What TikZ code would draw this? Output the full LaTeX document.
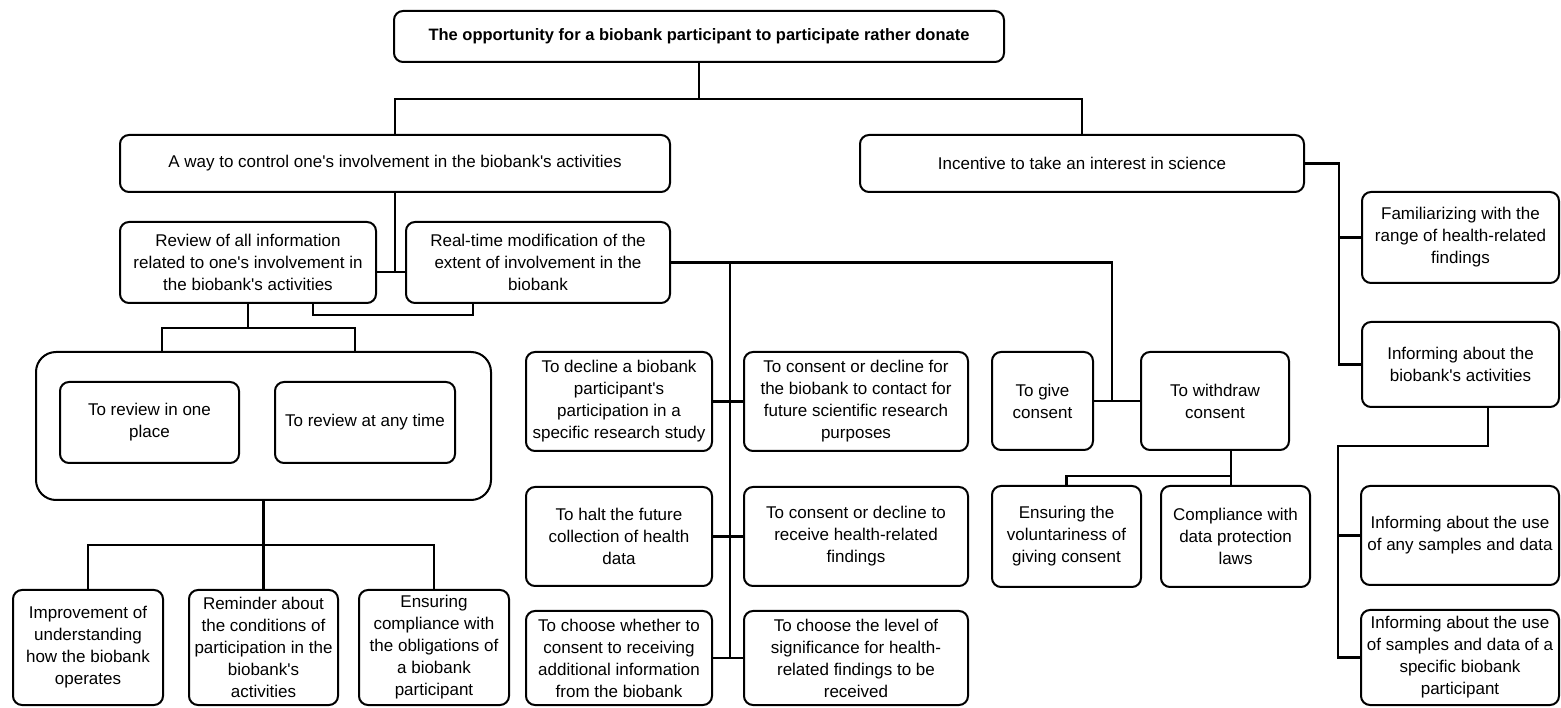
\documentclass[tikz,border=0pt]{standalone}
\usepackage{fontspec}
\setmainfont{Liberation Sans}
\usetikzlibrary{positioning, calc}
\newcommand{\apo}{\textquotesingle}

\begin{document}
\begin{tikzpicture}[x=1pt, y=1pt, line width=2pt,
	box/.style 2 args={draw, line width=2pt, rounded corners=9pt, align=center, inner sep=0pt,
		minimum width=#1, minimum height=#2, font=\fontsize{17}{22}\selectfont},
	conn/.style={line width=2.2pt}]
	\useasboundingbox (0,0) rectangle (1561,707);
	% top levels
	\node[box={610}{51}, font=\bfseries\fontsize{16.5}{22}\selectfont] (root) at (699,670.5) {The opportunity for a biobank participant to participate rather donate};
	\node[box={550}{57}] (way) at (395,543.5) {A way to control one\apo s involvement in the biobank\apo s activities};
	\node[box={444}{57}] (inc) at (1082,543.5) {Incentive to take an interest in science};
	\node[box={256}{81}] (rev) at (248,444.5) {Review of all information\\related to one\apo s involvement in\\the biobank\apo s activities};
	\node[box={264}{81}] (rtm) at (538,444.5) {Real-time modification of the\\extent of involvement in the\\biobank};
	% review branch
	\node[box={455}{148}, rounded corners=20pt] (big) at (263.5,281) {};
	\node[box={179}{81}] (one) at (149.5,284.5) {To review in one\\place};
	\node[box={180}{81}] (any) at (365,284.5) {To review at any time};
	\node[box={150}{115}] (imp) at (88,59.5) {Improvement of\\understanding\\how the biobank\\operates};
	\node[box={149}{115}] (rem) at (263.5,59.5) {Reminder about\\the conditions of\\participation in the\\biobank\apo s\\activities};
	\node[box={150}{115}] (ens) at (434,59.5) {Ensuring\\compliance with\\the obligations of\\a biobank\\participant};
	% modification branch
	\node[box={186}{99}] (dec) at (619,305.5) {To decline a biobank\\participant\apo s\\participation in a\\specific research study};
	\node[box={224}{99}] (cfc) at (856,305.5) {To consent or decline for\\the biobank to contact for\\future scientific research\\purposes};
	\node[box={186}{99}] (hal) at (619,170.5) {To halt the future\\collection of health\\data};
	\node[box={224}{99}] (crh) at (856,170.5) {To consent or decline to\\receive health-related\\findings};
	\node[box={186}{94}] (chw) at (619,49) {To choose whether to\\consent to receiving\\additional information\\from the biobank};
	\node[box={224}{94}] (chl) at (856,49) {To choose the level of\\significance for health-\\related findings to be\\received};
	\node[box={101}{98}] (giv) at (1042.5,306) {To give\\consent};
	\node[box={148}{98}] (wdr) at (1215,306) {To withdraw\\consent};
	\node[box={149}{101}] (vol) at (1066.5,170.5) {Ensuring the\\voluntariness of\\giving consent};
	\node[box={149}{101}] (cpl) at (1235.5,170.5) {Compliance with\\data protection\\laws};
	% science branch
	\node[box={197}{91}] (fam) at (1460.5,469.5) {Familiarizing with the\\range of health-related\\findings};
	\node[box={197}{85}] (ibk) at (1460.5,342.5) {Informing about the\\biobank\apo s activities};
	\node[box={198}{99}] (ius) at (1460,171.5) {Informing about the use\\of any samples and data};
	\node[box={198}{95}] (ipa) at (1460,49.5) {Informing about the use\\of samples and data of a\\specific biobank\\participant};

	% connectors
	\draw[conn] (root.south) -- ++(0,-36) coordinate (rj);
	\draw[conn] (rj) -| (way.north);
	\draw[conn] (rj) -| (inc.north);
	\draw[conn] (inc.east) -- ++(34,0) coordinate (ij) |- (ibk.west);
	\draw[conn] (ij) |- (fam.west);
	\coordinate (kj) at (1338,261);
	\draw[conn] ([xshift=27.5pt]ibk.south) |- (kj) |- (ipa.west);
	\draw[conn] (kj) |- (ius.west);
	\draw[conn] (way.south) -- ++(0,-80);
	\draw[conn] ([yshift=-9.5pt]rev.east) -- ([yshift=-9.5pt]rtm.west);
	\draw[conn] ([xshift=65pt]rev.south) -- ++(0,-11) -| ([xshift=-65pt]rtm.south);
	\draw[conn] (rev.south) -- ++(0,-24) coordinate (vj);
	\draw[conn] ([xshift=-101.5pt]big.north) |- (vj) -| ([xshift=91.5pt]big.north);
	\draw[conn] (big.south) -- ++(0,-44) coordinate (bj);
	\draw[conn] (imp.north) |- (bj) -| (ens.north);
	\draw[conn] (bj) -- (rem.north);
	\draw[conn] (rtm.east) -- ++(441,0) coordinate (tj) -- (tj |- giv.east);
	\draw[conn] (giv.east) -- (wdr.west);
	\draw[conn] ([xshift=59pt]rtm.east) -- ([xshift=17pt]chw.east);
	\draw[conn] (dec.east) -- (cfc.west);
	\draw[conn] (hal.east) -- (crh.west);
	\draw[conn] (chw.east) -- (chl.west);
	\draw[conn] ([xshift=16pt]wdr.south) -- ++(0,-25) coordinate (dj) -| (vol.north);
	\draw[conn] (dj) -- (dj |- cpl.north);
\end{tikzpicture}
\end{document}
